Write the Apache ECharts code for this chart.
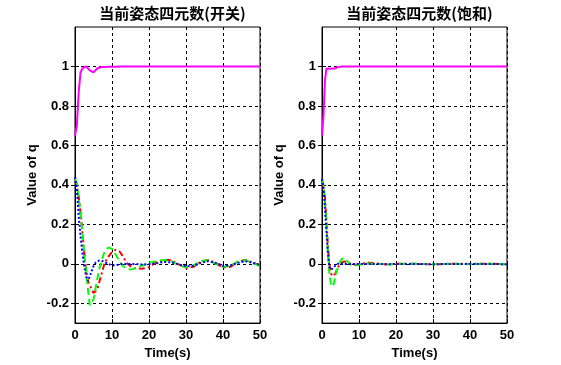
<!DOCTYPE html>
<html><head><meta charset="utf-8">
<script src="https://cdn.jsdelivr.net/npm/echarts@6/dist/echarts.min.js"></script>
<style>html,body{margin:0;padding:0;background:#fff}#c{width:561px;height:365px}</style>
</head><body><div id="c"></div>
<script>
const titles = ['当前姿态四元数(开关)', '当前姿态四元数(饱和)'];
const xTicks = [0, 10, 20, 30, 40, 50];
const yTicks = [-0.2, 0, 0.2, 0.4, 0.6, 0.8, 1];

const tLeft = [0,0.5,1,1.5,2,2.5,3,3.5,4,4.5, 5,5.5,6,6.5,7,7.5,8,9,10,11, 12,13,14,15,16,18,20,22,24,26, 28,30,32,34,36,38,40,42,44,46, 48,50];
const leftMagenta = [0.65,0.70,0.87,0.97,0.99,0.995,1.0,1.0,0.98,0.97, 0.97,0.975,0.99,0.995,0.997,0.997,0.997,0.998,0.998,0.999, 1,1,1,1,1,1,1,1,1,1, 1,1,1,1,1,1,1,1,1,1, 1,1];
const leftRed = [0.42,0.40,0.34,0.26,0.16,0.056,-0.03,-0.09,-0.105,-0.13, -0.147,-0.147,-0.13,-0.097,-0.063,-0.03,0.005,0.036,0.06,0.071, 0.064,0.036,0.005,-0.012,-0.022,-0.025,-0.017,0.008,0.02,0.019, -0.003,-0.022,-0.015,0.012,0.02,0.005,-0.019,-0.015,0.01,0.02, 0.008,-0.008];
const leftGreen = [0.43,0.41,0.33,0.26,0.16,0.05,-0.03,-0.13,-0.21,-0.215, -0.18,-0.13,-0.08,-0.03,0.005,0.035,0.06,0.083,0.076,0.047, 0.014,-0.012,-0.024,-0.029,-0.024,-0.01,0.005,0.014,0.02,0.014, -0.007,-0.017,-0.008,0.014,0.019,0,-0.015,-0.01,0.012,0.019, 0.005,-0.012];
const leftBlue = [0.44,0.38,0.24,0.14,0.056,-0.012,-0.063,-0.088,-0.085,-0.037, -0.012,0.005,0.014,0.017,0.017,0.014,0.012,0,-0.008,-0.007, -0.003,0,0,0,0,-0.003,-0.002,0.003,0.01,0.008, -0.002,-0.012,-0.01,0.005,0.014,0.005,-0.01,-0.008,0.005,0.014, 0.005,-0.005];

const tRight = [0,0.4,0.8,1.2,1.6,2,2.4,2.8,3.2,3.6, 4,4.5,5,5.5,6,6.5,7,8,9,10, 12,14,16,18,20,25,30,35,40,45, 50];
const rightMagenta = [0.65,0.75,0.93,0.99,0.99,0.988,0.99,0.99,0.99,0.99, 0.99,0.998,1,1,1,1,1,1,1,1, 1,1,1,1,1,1,1,1,1,1, 1];
const rightRed = [0.42,0.39,0.34,0.225,0.09,-0.005,-0.048,-0.062,-0.062,-0.05, -0.03,-0.012,0.002,0.01,0.013,0.012,0.006,-0.002,-0.004,-0.002, 0.006,0.004,0,-0.003,0.001,0.001,-0.002,0.001,0,0.001, -0.002];
const rightGreen = [0.43,0.40,0.32,0.20,0.05,-0.05,-0.10,-0.115,-0.10,-0.065, -0.035,-0.008,0.015,0.027,0.03,0.022,0.01,-0.008,-0.008,-0.004, 0.002,0.001,0,-0.003,0,0.001,-0.002,0.001,-0.002,0.001, -0.002];
const rightBlue = [0.43,0.39,0.28,0.16,0.056,-0.015,-0.03,-0.03,-0.018,-0.008, 0,0.002,0.002,0.001,0,0,0,0,0,0, 0,0,0,-0.002,0,0,-0.002,0,0,0, -0.002];

const panels = [
  {t: tLeft, m: leftMagenta, r: leftRed, g: leftGreen, b: leftBlue},
  {t: tRight, m: rightMagenta, r: rightRed, g: rightGreen, b: rightBlue}
];
const lefts = [75, 322];
const FONT = 'Liberation Sans, Arial, sans-serif';
const lbl = {fontFamily: FONT, fontWeight: 'bold', fontSize: 13, color: '#000'};

const grid = [], xAxis = [], yAxis = [], series = [], title = [];
panels.forEach((p, i) => {
  grid.push({left: lefts[i], top: 27, width: 185, height: 297, show: true, borderColor: '#000', borderWidth: 1, containLabel: false});
  title.push({text: titles[i], left: lefts[i] + 92.5, top: 1, textAlign: 'center',
    textStyle: {fontFamily: 'Noto Sans CJK SC', fontWeight: 'bold', fontSize: 15, color: '#000'}});
  xAxis.push({type: 'value', gridIndex: i, min: 0, max: 50, interval: 10,
    name: 'Time(s)', nameLocation: 'middle', nameGap: 22, nameTextStyle: lbl,
    axisLine: {show: true, onZero: false, lineStyle: {color: '#000', width: 1}},
    axisTick: {show: true, inside: true, length: 4, lineStyle: {color: '#000'}},
    axisLabel: Object.assign({margin: 6}, lbl),
    splitLine: {show: true, lineStyle: {color: '#000', type: [3, 3], width: 1}}});
  xAxis.push({type: 'value', gridIndex: i, min: 0, max: 50, interval: 10, position: 'top',
    axisLine: {show: false}, axisTick: {show: true, inside: true, length: 4, lineStyle: {color: '#000'}},
    axisLabel: {show: false}, splitLine: {show: false}});
  yAxis.push({type: 'value', gridIndex: i, min: -0.3, max: 1.2,
    name: 'Value of q', nameLocation: 'middle', nameGap: 36, nameTextStyle: lbl, nameRotate: 90,
    axisLine: {show: true, onZero: false, lineStyle: {color: '#000', width: 1}},
    axisTick: {show: true, inside: true, length: 4, customValues: yTicks, lineStyle: {color: '#000'}},
    axisLabel: Object.assign({margin: 6, customValues: yTicks, formatter: v => String(Math.round(v * 10) / 10)}, lbl),
    splitLine: {show: true, lineStyle: {color: '#000', type: [3, 3], width: 1}}});
  yAxis.push({type: 'value', gridIndex: i, min: -0.3, max: 1.2, position: 'right',
    axisLine: {show: false}, axisTick: {show: true, inside: true, length: 4, customValues: yTicks, lineStyle: {color: '#000'}},
    axisLabel: {show: false}, splitLine: {show: false}});
  const mk = (vals, color, type, w) => ({
    type: 'line', xAxisIndex: 2 * i, yAxisIndex: 2 * i, symbol: 'none', animation: false,
    data: p.t.map((t, k) => [t, vals[k]]),
    lineStyle: {color, type, width: w}, clip: true
  });
  series.push(mk(p.m, '#ff00ff', 'solid', 2));
  series.push(mk(p.r, '#ff0000', [6, 3, 2, 3], 2));
  series.push(mk(p.g, '#00ff00', [7, 4], 2));
  series.push(mk(p.b, '#0000ff', [2, 2], 2));
});

const chart = echarts.init(document.getElementById('c'), null, {renderer: 'canvas'});
chart.setOption({backgroundColor: '#fff', animation: false, title, grid, xAxis, yAxis, series});
</script>
</body></html>
